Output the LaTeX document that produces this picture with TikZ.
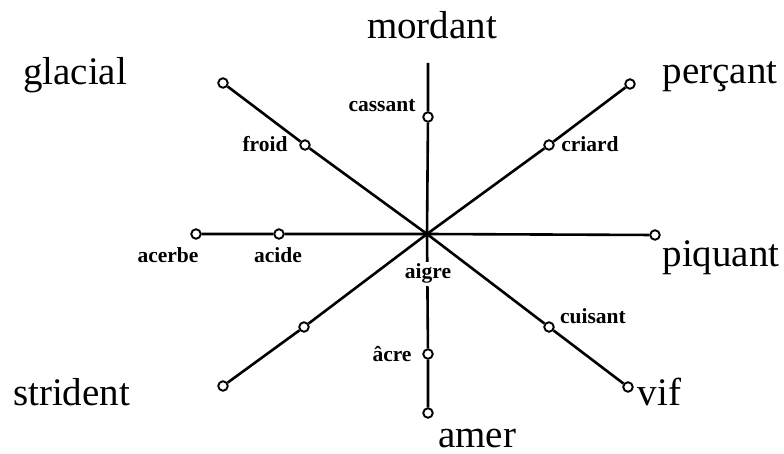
\documentclass[tikz,border=0pt]{standalone}
\usepackage{fontspec}
\setmainfont{Liberation Serif}
\begin{document}
\begin{tikzpicture}[x=1pt,y=-1pt,
  dot/.style={circle,draw,fill=white,line width=1.9pt,minimum size=9.5pt,inner sep=0pt},
  axis/.style={line width=2.6pt},
  big/.style={font=\fontsize{39}{44}\selectfont,anchor=base,inner sep=0pt},
  small/.style={font=\bfseries\fontsize{21.5}{24}\selectfont,anchor=base,inner sep=0pt}]
\useasboundingbox (0,0) rectangle (784,454);
\coordinate (C) at (427,234);
\coordinate (top) at (428,63);
% circles
\node[dot] (cassant) at (428,117) {};
\node[dot] (acre) at (428,354) {};
\node[dot] (amerdot) at (428,413) {};
\node[dot] (glacialdot) at (223,83) {};
\node[dot] (froid) at (305,145) {};
\node[dot] (percantdot) at (630,84) {};
\node[dot] (criard) at (549,145) {};
\node[dot] (acerbe) at (196,234) {};
\node[dot] (acide) at (279,234) {};
\node[dot] (piquantdot) at (655,235) {};
\node[dot] (stridentdot) at (223,386) {};
\node[dot] (mid) at (304,327) {};
\node[dot] (cuisant) at (549,327) {};
\node[dot] (vifdot) at (628,387) {};
% axes
\draw[axis] (top) -- (cassant) -- (C) -- (acre) -- (amerdot);
\draw[axis] (glacialdot) -- (froid) -- (C) -- (cuisant) -- (vifdot);
\draw[axis] (percantdot) -- (criard) -- (C) -- (mid) -- (stridentdot);
\draw[axis] (acerbe) -- (acide) -- (C) -- (piquantdot);
% big labels
\node[big] (lmordant) at (432,39) {mordant};
\node[big] (lglacial) at (75,85) {glacial};
\node[big] (lpercant) at (720,84) {perçant};
\node[big] (lpiquant) at (721,267) {piquant};
\node[big] (lstrident) at (71.5,405) {strident};
\node[big] (lvif) at (659.5,405) {vif};
\node[big] (lamer) at (477,447) {amer};
% small labels
\node[small] (tcassant) at (382,112) {cassant};
\node[small] (tfroid) at (265,152) {froid};
\node[small] (tcriard) at (590,152) {criard};
\node[small] (tacerbe) at (168,263) {acerbe};
\node[small] (tacide) at (278,263) {acide};
\node[small,fill=white,inner sep=2pt] (taigre) at (428,279) {aigre};
\node[small] (tacre) at (392,361) {âcre};
\node[small] (tcuisant) at (593,323) {cuisant};
\end{tikzpicture}
\end{document}
